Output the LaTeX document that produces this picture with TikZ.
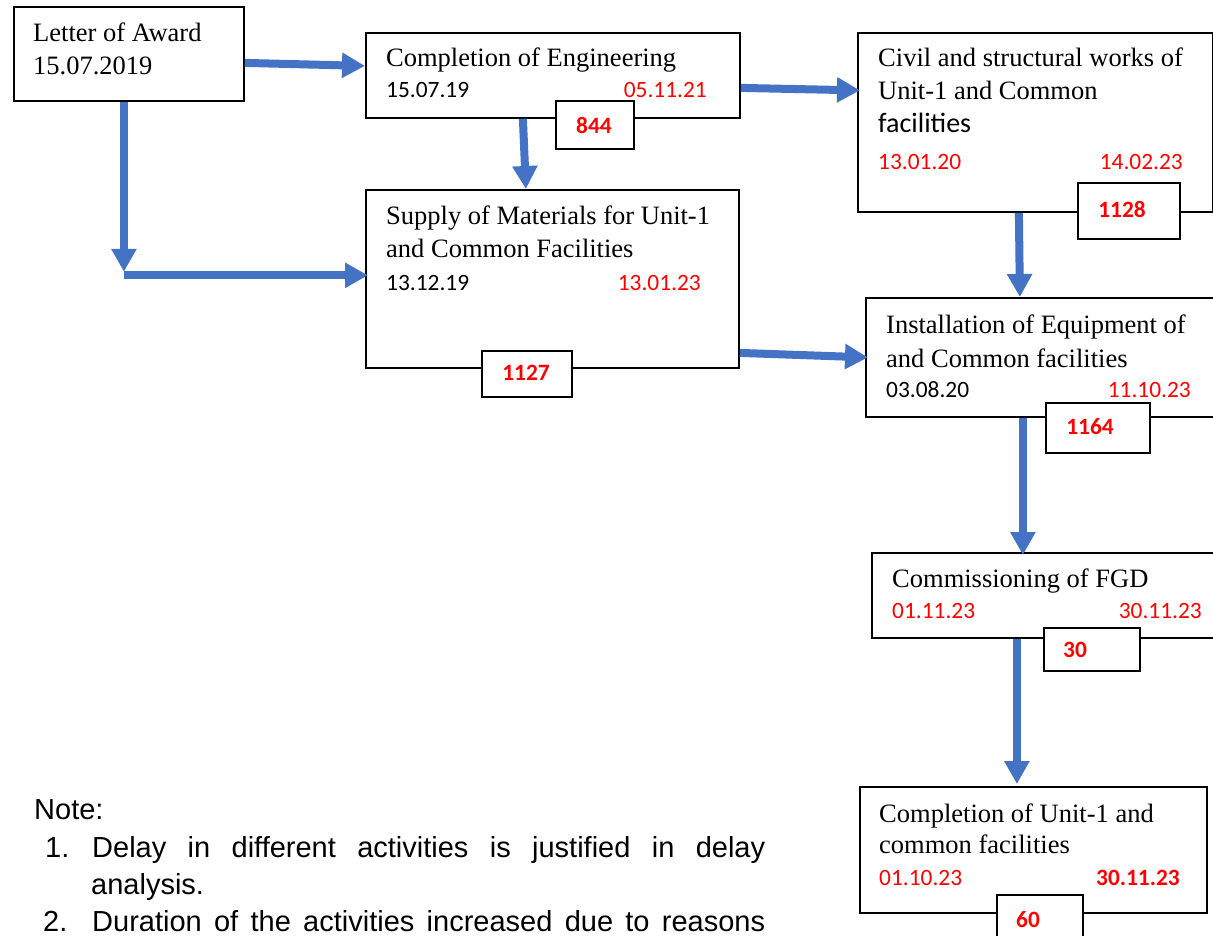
\documentclass[tikz,border=0pt]{standalone}
\usepackage{fontspec}
\setmainfont{Liberation Serif}
\newfontfamily\calibri{Carlito}
\newfontfamily\arialf{Liberation Sans}
\usetikzlibrary{arrows.meta}
\definecolor{arrblue}{HTML}{4472C4}
\definecolor{datered}{HTML}{FF0000}
\begin{document}
\begin{tikzpicture}[x=1pt,y=-1pt,
  box/.style={draw=black, line width=1.8pt, fill=white, inner sep=0pt, anchor=north west},
  tx/.style={inner sep=0pt, anchor=base west, font=\fontsize{26.5}{33}\selectfont},
  dt/.style={inner sep=0pt, anchor=base west, font=\calibri\fontsize{23.4}{28}\selectfont},
  dtr/.style={dt, anchor=base east, text=datered},
  num/.style={inner sep=0pt, font=\calibri\bfseries\fontsize{23.4}{28}\selectfont, text=datered},
  notetx/.style={inner sep=0pt, anchor=base west, font=\arialf\fontsize{29}{38}\selectfont},
  arr/.style={draw=arrblue, line width=8pt, -{Triangle[width=24pt,length=23pt]}},
]
\useasboundingbox (0,0) rectangle (1213,936);
\fill[white] (0,0) rectangle (1213,936);

% big boxes
\node[box, minimum width=230pt, minimum height=94pt] (letter) at (13,6) {};
\node[box, minimum width=374pt, minimum height=85pt] (eng) at (365,32) {};
\node[box, minimum width=355pt, minimum height=179pt] (civil) at (857,32) {};
\node[box, minimum width=373pt, minimum height=178pt] (supply) at (365,189) {};
\node[box, minimum width=360pt, minimum height=119pt] (inst) at (865,297) {};
\node[box, minimum width=354pt, minimum height=85pt] (comm) at (871,552) {};
\node[box, minimum width=347pt, minimum height=126pt] (compl) at (859,786) {};

% number boxes
\node[box, minimum width=78pt, minimum height=48pt] (b844) at (555,100) {};
\node[box, minimum width=102pt, minimum height=56pt] (b1128) at (1077,182) {};
\node[box, minimum width=90pt, minimum height=46pt] (b1127) at (481,350) {};
\node[box, minimum width=104pt, minimum height=50pt] (b1164) at (1045,402) {};
\node[box, minimum width=96pt, minimum height=43pt] (b30) at (1043,627) {};
\node[box, minimum width=86pt, minimum height=52pt] (b60) at (996,894) {};

\node[num] (t844) at (594,126) {844};
\node[num] (t1128) at (1122,210) {1128};
\node[num] (t1127) at (526,373) {1127};
\node[num] (t1164) at (1090,427) {1164};
\node[num] (t30) at (1075,650) {30};
\node[num] (t60) at (1028,920) {60};

% texts
\node[tx] (letter1) at (33,42) {Letter of Award};
\node[tx] (letter2) at (33,75) {15.07.2019};

\node[tx] (eng1) at (386,67) {Completion of Engineering};
\node[dt] (eng2) at (386,98) {15.07.19};
\node[dtr] (eng3) at (707,98) {05.11.21};

\node[tx] (civil1) at (878,67) {Civil and structural works of};
\node[tx] (civil2) at (878,100) {Unit-1 and Common};
\node[dt, font=\calibri\fontsize{28}{33}\selectfont] (civil3) at (878,133) {facilities};
\node[dt, text=datered] (civil4) at (878,170) {13.01.20};
\node[dtr] (civil5) at (1183,170) {14.02.23};

\node[tx] (sup1) at (386,225) {Supply of Materials for Unit-1};
\node[tx] (sup2) at (386,258) {and Common Facilities};
\node[dt] (sup3) at (386,290) {13.12.19};
\node[dtr] (sup4) at (701,290) {13.01.23};

\node[tx] (inst1) at (886,333) {Installation of Equipment of};
\node[tx] (inst2) at (886,367) {and Common facilities};
\node[dt] (inst3) at (886,397) {03.08.20};
\node[dtr] (inst4) at (1191,397) {11.10.23};

\node[tx] (comm1) at (892,587) {Commissioning of FGD};
\node[dt, text=datered] (comm2) at (892,618) {01.11.23};
\node[dtr] (comm3) at (1202,618) {30.11.23};

\node[tx] (compl1) at (879,822) {Completion of Unit-1 and};
\node[tx] (compl2) at (879,853) {common facilities};
\node[dt, text=datered] (compl3) at (879,885) {01.10.23};
\node[dtr, font=\calibri\bfseries\fontsize{23.4}{28}\selectfont] (compl4) at (1180,885) {30.11.23};

% note
\node[notetx] (note) at (34,819) {Note:};
\node[notetx] (i1) at (45,857) {1.};
\node[notetx] (l1) at (92,857) {\makebox[673pt][s]{Delay in different activities is justified in delay}};
\node[notetx] (l1b) at (91,894) {analysis.};
\node[notetx] (i2) at (43,931) {2.};
\node[notetx] (l2) at (92,931) {\makebox[673pt][s]{Duration of the activities increased due to reasons}};

% connectors
\draw[arr] ([yshift=-9pt]letter.east) -- ([yshift=9.5pt]eng.west);
\draw[arr] ([xshift=-30pt]eng.south) -- ([xshift=-26.5pt]supply.north);
\draw[arr] ([yshift=-12.5pt]eng.east) -- ([xshift=3pt,yshift=32pt]civil.west);
\draw[arr] ([xshift=-5pt]letter.south) -- ([xshift=-5pt,yshift=-170pt]letter.south);
\coordinate (lcorner) at ([xshift=-5pt,yshift=-173.5pt]letter.south);
\draw[arr] (lcorner) -- ([xshift=3pt]lcorner -| supply.west);
\draw[arr] ([yshift=-74pt]supply.east) -- ([xshift=3pt]inst.west);
\draw[arr] ([xshift=-16.5pt]civil.south) -- ([xshift=-26pt]inst.north);
\draw[arr] ([xshift=-23pt]inst.south) -- ([xshift=-26pt,yshift=-3pt]comm.north);
\draw[arr] ([xshift=-32pt]comm.south) -- ([xshift=-16.5pt,yshift=2pt]compl.north);
\end{tikzpicture}
\end{document}
